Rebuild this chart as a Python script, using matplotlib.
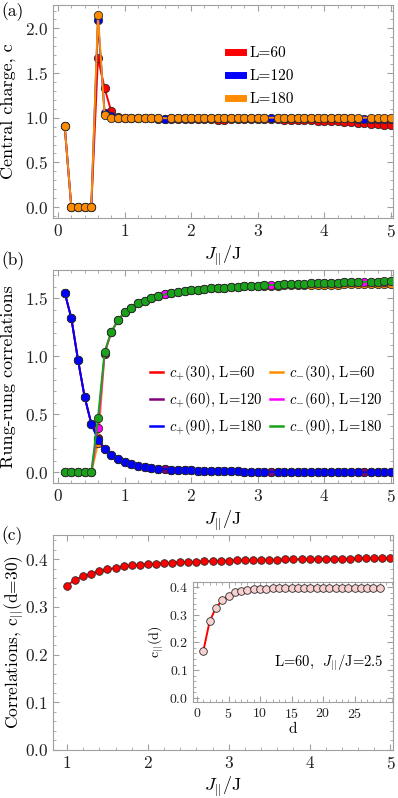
import numpy as np
import matplotlib
matplotlib.use("Agg")
from matplotlib import pyplot as plt
from matplotlib.ticker import MultipleLocator

plt.rcParams['font.family'] = 'cmr10'
plt.rcParams['mathtext.fontset'] = 'cm'
plt.rcParams['axes.unicode_minus'] = False
plt.rcParams['axes.formatter.use_mathtext'] = True

############ DATA

# J_||/J grid
J = np.round(np.arange(1, 51) * 0.1, 1)
J180 = J[~np.isin(J, [1.6, 3.2, 4.6])]   # L=180 runs have no points here

# (a) central charge
c_L60 = [0.91, 0.0, 0.0, 0.0, 0.0, 1.67, 1.33, 1.07, 1.01, 1.0,
         0.995, 0.995, 0.995, 0.995, 0.99, 0.99, 0.99, 0.99, 0.99, 0.99,
         0.99, 0.99, 0.985, 0.98, 0.978, 0.985, 0.99, 0.99, 0.99, 0.99,
         0.99, 0.99, 0.985, 0.98, 0.978, 0.975, 0.972, 0.97, 0.968, 0.965,
         0.962, 0.958, 0.955, 0.95, 0.945, 0.94, 0.935, 0.928, 0.922, 0.915]
c_L120 = [0.91, 0.0, 0.0, 0.0, 0.0, 2.09, 1.05, 1.02, 1.0, 1.0,
          0.995, 0.995, 0.995, 0.995, 0.995, 0.99, 0.995, 0.995, 0.995, 0.995,
          0.995, 0.995, 0.995, 0.995, 0.995, 0.998, 0.998, 0.998, 0.998, 0.998,
          0.998, 0.995, 0.998, 0.998, 0.998, 0.998, 0.998, 0.995, 0.995, 0.995,
          0.995, 0.995, 0.993, 0.993, 0.99, 0.985, 0.99, 0.99, 0.985, 0.985]
c_L180 = [0.91, 0.0, 0.0, 0.0, 0.0, 2.15, 1.03, 1.0, 1.0, 0.995,
          0.995, 0.995, 0.995, 0.995, 0.995,
          0.995, 0.995, 0.995, 0.995,
          0.998, 0.998, 0.998, 0.998, 0.998, 1.0, 1.0, 1.0, 1.0, 1.0, 1.0,
          1.0, 1.0, 1.0, 1.0, 1.0, 1.0, 1.0, 1.0, 1.0, 1.0, 1.0, 1.0, 1.0,
          1.0, 1.0, 1.0, 1.0]

# (b) rung-rung correlations
cp90 = [1.55, 1.33, 0.97, 0.65, 0.42, 0.28, 0.20, 0.15, 0.115, 0.09,
        0.07, 0.055, 0.045, 0.037, 0.032,
        0.024, 0.021, 0.019, 0.017,
        0.015, 0.014, 0.012, 0.011, 0.010, 0.009, 0.008, 0.007, 0.006, 0.006, 0.005,
        0.004, 0.004, 0.003, 0.003, 0.003, 0.002, 0.002, 0.002, 0.002, 0.001, 0.001, 0.001, 0.001,
        0.001, 0.001, 0.0, 0.0]
cp60 = [1.55, 1.33, 0.97, 0.65, 0.42, 0.29, 0.20, 0.15, 0.115, 0.09,
        0.07, 0.055, 0.045, 0.037, 0.032, 0.028, 0.024, 0.021, 0.019, 0.017,
        0.015, 0.014, 0.012, 0.011, 0.010, 0.009, 0.008, 0.007, 0.006, 0.006,
        0.005, 0.005, 0.004, 0.004, 0.003, 0.003, 0.003, 0.002, 0.002, 0.002,
        0.002, 0.001, 0.001, 0.001, 0.001, 0.001, 0.001, 0.001, 0.0, 0.0]
cp30 = [1.55, 1.33, 0.97, 0.65, 0.42, 0.30, 0.20, 0.15, 0.115, 0.09,
        0.07, 0.055, 0.045, 0.037, 0.032, 0.028, 0.024, 0.021, 0.019, 0.017,
        0.015, 0.014, 0.012, 0.011, 0.010, 0.009, 0.008, 0.007, 0.006, 0.006,
        0.005, 0.005, 0.004, 0.004, 0.003, 0.003, 0.003, 0.002, 0.002, 0.002,
        0.002, 0.001, 0.001, 0.001, 0.001, 0.001, 0.001, 0.001, 0.0, 0.0]
cm90 = [0.0, 0.0, 0.0, 0.0, 0.0, 0.47, 1.04, 1.21, 1.31, 1.38,
        1.42, 1.46, 1.48, 1.50, 1.52,
        1.545, 1.555, 1.565, 1.57,
        1.575, 1.58, 1.585, 1.59, 1.593, 1.597, 1.60, 1.605, 1.607, 1.61, 1.613,
        1.617, 1.62, 1.622, 1.624, 1.626, 1.628, 1.63, 1.632, 1.634, 1.636, 1.638, 1.64, 1.641,
        1.643, 1.645, 1.647, 1.649]
cm60 = [0.0, 0.0, 0.0, 0.0, 0.0, 0.38, 1.03, 1.21, 1.31, 1.38,
        1.42, 1.46, 1.48, 1.50, 1.52, 1.535, 1.545, 1.555, 1.565, 1.57,
        1.575, 1.58, 1.585, 1.59, 1.593, 1.597, 1.60, 1.605, 1.607, 1.61,
        1.613, 1.615, 1.617, 1.62, 1.622, 1.624, 1.626, 1.628, 1.63, 1.632,
        1.634, 1.636, 1.638, 1.64, 1.64, 1.64, 1.643, 1.645, 1.645, 1.647]
cm30 = [0.0, 0.0, 0.0, 0.0, 0.0, 0.25, 1.02, 1.21, 1.31, 1.38,
        1.42, 1.46, 1.48, 1.50, 1.52, 1.535, 1.545, 1.555, 1.565, 1.57,
        1.575, 1.58, 1.585, 1.59, 1.593, 1.597, 1.60, 1.603, 1.605, 1.607,
        1.608, 1.609, 1.61, 1.611, 1.612, 1.613, 1.614, 1.615, 1.616, 1.617,
        1.618, 1.619, 1.62, 1.62, 1.621, 1.622, 1.622, 1.623, 1.624, 1.625]

# (c) longitudinal correlations at d=30, L=60
Jc = np.round(np.arange(10, 51) * 0.1, 1)
cpar30 = [0.345, 0.357, 0.364, 0.370, 0.375, 0.379, 0.382, 0.385, 0.387, 0.389,
          0.390, 0.391, 0.392, 0.393, 0.394, 0.394, 0.395, 0.396, 0.396, 0.397,
          0.397, 0.398, 0.398, 0.398, 0.399, 0.399, 0.399, 0.400, 0.400, 0.400,
          0.400, 0.401, 0.401, 0.401, 0.401, 0.401, 0.402, 0.402, 0.402, 0.402,
          0.402]

# inset: c_||(d) at J_||/J = 2.5
d = np.arange(1, 30)
cpar_d = [0.169, 0.276, 0.326, 0.352, 0.369, 0.381, 0.387, 0.390, 0.393, 0.394,
          0.395, 0.396, 0.396, 0.396, 0.397, 0.397, 0.397, 0.397, 0.397, 0.397,
          0.397, 0.397, 0.397, 0.397, 0.397, 0.397, 0.397, 0.397, 0.397]


############ STYLE HELPERS

FRAME = '#a0a0a0'
EDGE = '#2a2a2a'


def style_axes(ax, xmaj, xmin, ymaj, ymin, lsize=12.5):
    for s in ax.spines.values():
        s.set_color(FRAME)
        s.set_linewidth(0.8)
    ax.xaxis.set_major_locator(MultipleLocator(xmaj))
    ax.xaxis.set_minor_locator(MultipleLocator(xmin))
    ax.yaxis.set_major_locator(MultipleLocator(ymaj))
    ax.yaxis.set_minor_locator(MultipleLocator(ymin))
    ax.tick_params(which='both', direction='in', top=True, right=True, color=FRAME,
                   labelsize=lsize, labelcolor='#222222')
    ax.tick_params(which='major', length=4.5, width=0.8)
    ax.tick_params(which='minor', length=2.5, width=0.6)


def curve(ax, x, y, col, ms=6.0, mfc=None):
    ax.plot(x, y, '-', color=col, lw=1.4, marker='o', ms=ms,
            mfc=col if mfc is None else mfc, mec=EDGE, mew=0.6)


fig = plt.figure(figsize=(3.98, 7.98), dpi=100)

############ (a)
ax1 = fig.add_axes([0.1332, 0.7268, 0.854, 0.2669])
curve(ax1, J, c_L60, '#ff0000')
curve(ax1, J, c_L120, '#0000ff')
curve(ax1, J180, c_L180, '#ff8c00')
ax1.set_xlim(-0.075, 5.03)
ax1.set_ylim(-0.123, 2.262)
style_axes(ax1, 1, 0.2, 0.5, 0.1)
ax1.set_xlabel(r'$J_{||}$/J', fontsize=13, labelpad=3)
ax1.set_ylabel('Central charge, c', fontsize=13)
ax1.yaxis.set_label_coords(-0.108, 0.5)
hs = [plt.Line2D([], [], color=c, lw=5) for c in ['#ff0000', '#0000ff', '#ff8c00']]
ax1.legend(hs, ['L=60', 'L=120', 'L=180'], loc='upper left', bbox_to_anchor=(0.515, 0.805),
           frameon=False, fontsize=11, handlelength=1.0, handletextpad=0.4, labelspacing=0.6,
           borderpad=0, borderaxespad=0)

############ (b)
ax2 = fig.add_axes([0.1332, 0.3947, 0.854, 0.2669])
curve(ax2, J, cp30, '#ff0000')
curve(ax2, J, cm30, '#ff8c00')
curve(ax2, J, cp60, '#800080')
curve(ax2, J, cm60, '#ff00ff')
curve(ax2, J180, cp90, '#0000ff')
curve(ax2, J180, cm90, '#1aa31a')
ax2.set_xlim(-0.075, 5.03)
ax2.set_ylim(-0.092, 1.744)
style_axes(ax2, 1, 0.2, 0.5, 0.1)
ax2.set_xlabel(r'$J_{||}$/J', fontsize=13, labelpad=3)
ax2.set_ylabel('Rung-rung correlations', fontsize=13)
ax2.yaxis.set_label_coords(-0.108, 0.5)
cols_b = ['#ff0000', '#800080', '#0000ff', '#ff8c00', '#ff00ff', '#1aa31a']
labs_b = [r'$c_{+}$(30), L=60', r'$c_{+}$(60), L=120', r'$c_{+}$(90), L=180',
          r'$c_{-}$(30), L=60', r'$c_{-}$(60), L=120', r'$c_{-}$(90), L=180']
hs = [plt.Line2D([], [], color=c, lw=1.8) for c in cols_b]
ax2.legend(hs, labs_b, ncol=2, loc='upper left', bbox_to_anchor=(0.285, 0.565),
           frameon=False, fontsize=10.5, handlelength=0.9, handletextpad=0.4,
           columnspacing=0.5, labelspacing=0.5, borderpad=0, borderaxespad=0)

############ (c)
ax3 = fig.add_axes([0.1332, 0.0602, 0.854, 0.2694])
curve(ax3, Jc, cpar30, '#ff0000', ms=5.5)
ax3.set_xlim(0.827, 5.03)
ax3.set_ylim(0.0, 0.451)
style_axes(ax3, 1, 0.2, 0.1, 0.02)
ax3.set_xlabel(r'$J_{||}$/J', fontsize=13, labelpad=2)
ax3.set_ylabel(r'Correlations, c$_{||}$(d=30)', fontsize=12.5)
ax3.yaxis.set_label_coords(-0.078, 0.5)

axin = fig.add_axes([0.4857, 0.1207, 0.5018, 0.1504])
axin.plot(d, cpar_d, '-', color='#ff0000', lw=1.4, marker='o', ms=5.5,
          mfc='#f8d0d0', mec=EDGE, mew=0.6)
axin.set_xlim(-0.59, 31.1)
axin.set_ylim(-0.0145, 0.42)
style_axes(axin, 5, 1, 0.1, 0.02, lsize=10)
axin.set_xticks([0, 5, 10, 15, 20, 25])
axin.set_xlabel('d', fontsize=11, labelpad=1)
axin.set_ylabel(r'c$_{||}$(d)', fontsize=10, labelpad=2)
axin.text(0.95, 0.32, r'L=60,  $J_{||}$/J=2.5', transform=axin.transAxes,
          ha='right', va='center', fontsize=10.5)

############ panel letters
fig.text(0.004, 0.985, '(a)', fontsize=12.5, va='center')
fig.text(0.004, 0.674, '(b)', fontsize=12.5, va='center')
fig.text(0.004, 0.329, '(c)', fontsize=12.5, va='center')

fig.savefig('out.png', dpi=100)
